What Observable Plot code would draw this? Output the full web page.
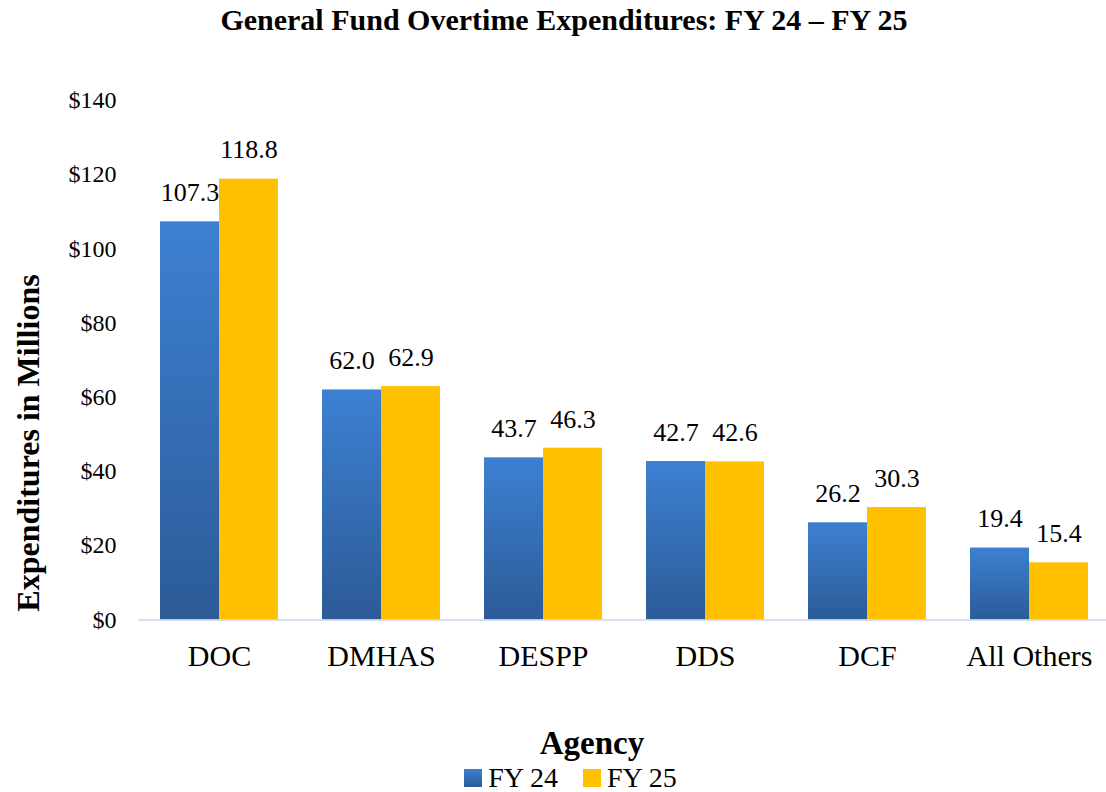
<!DOCTYPE html>
<html>
<head>
<meta charset="utf-8">
<script src="https://cdn.jsdelivr.net/npm/d3@7"></script>
<script src="https://cdn.jsdelivr.net/npm/@observablehq/plot@0.6"></script>
<style>
  html, body { margin: 0; padding: 0; background: #fff; overflow: hidden; }
  body { width: 1106px; height: 792px; position: relative; font-family: "Liberation Serif", serif; color: #000; }
  #title { position: absolute; left: 0; top: 0; width: 1128px; text-align: center; font-weight: bold; font-size: 30px; line-height: 40px; }
  #chart { position: absolute; left: 0; top: 40px; }
  #ylabel { position: absolute; left: 28px; top: 443px; transform: translate(-50%, -50%) rotate(-90deg); white-space: nowrap; font-weight: bold; font-size: 32px; line-height: 34px; }
  #xlabel { position: absolute; left: 0; top: 723px; width: 1184px; text-align: center; font-weight: bold; font-size: 33px; line-height: 40px; }
  #legend { position: absolute; left: 0; top: 763px; width: 1141px; display: flex; justify-content: center; align-items: center; font-size: 28px; line-height: 30px; }
  .item { display: flex; align-items: center; }
  .sw { width: 18px; height: 18px; margin-right: 6px; }
</style>
</head>
<body>
<div id="title">General Fund Overtime Expenditures: FY 24 – FY 25</div>
<div id="chart"></div>
<div id="ylabel">Expenditures in Millions</div>
<div id="xlabel">Agency</div>
<div id="legend"></div>
<script>
const agencies = ["DOC", "DMHAS", "DESPP", "DDS", "DCF", "All Others"];
const years = ["FY 24", "FY 25"];
const fy24 = [107.3, 62.0, 43.7, 42.7, 26.2, 19.4];
const fy25 = [118.8, 62.9, 46.3, 42.6, 30.3, 15.4];
const yTicks = [0, 20, 40, 60, 80, 100, 120, 140];

const serif = "Liberation Serif";
const blue = "url(#blueGrad)";
const gold = "#FFC000";

const rows = [];
agencies.forEach((a, i) => {
  rows.push({agency: a, year: years[0], value: fy24[i]});
  rows.push({agency: a, year: years[1], value: fy25[i]});
});

const plot = Plot.plot({
  width: 1112,
  height: 640,
  marginLeft: 135,
  marginRight: 0,
  marginTop: 60,
  marginBottom: 60.5,
  style: {fontFamily: serif, color: "#000", background: "#fff"},
  fx: {domain: agencies, padding: 0, label: null, tickSize: 0, tickPadding: 25},
  x: {domain: years, paddingInner: 0, paddingOuter: 0.37, axis: null},
  y: {domain: [0, 140], ticks: yTicks, tickFormat: d => "$" + d, tickSize: 0, tickPadding: 22, label: null},
  marks: [
    Plot.barY(rows.filter(d => d.year === years[0]), {fx: "agency", x: "year", y: "value", fill: blue}),
    Plot.barY(rows.filter(d => d.year === years[1]), {fx: "agency", x: "year", y: "value", fill: gold}),
    Plot.ruleY([0], {stroke: "#c9d6ea", strokeWidth: 1.5}),
    Plot.text(rows, {fx: "agency", x: "year", y: "value", text: d => d.value.toFixed(1), dy: -29, lineAnchor: "middle", fontSize: 26, fontFamily: serif, fill: "#000"})
  ]
});
plot.style.maxWidth = "none";
plot.style.overflow = "visible";

const svg = d3.select(plot);
svg.attr("font-family", serif).style("font-family", serif);
svg.selectAll("g").attr("font-family", serif);
svg.selectAll("text").attr("font-family", serif).style("font-family", serif);
svg.selectAll('g[aria-label^="y-axis"]').attr("font-size", 24).selectAll("text").style("font-size", "24px");
svg.selectAll('g[aria-label^="fx-axis"]').attr("font-size", 30).selectAll("text").style("font-size", "30px");

const defs = svg.insert("defs", ":first-child");
const grad = defs.append("linearGradient").attr("id", "blueGrad").attr("x1", 0).attr("y1", 0).attr("x2", 0).attr("y2", 1);
grad.append("stop").attr("offset", "0%").attr("stop-color", "#3d80d2");
grad.append("stop").attr("offset", "100%").attr("stop-color", "#2c5b97");

document.getElementById("chart").appendChild(plot);

const legend = document.getElementById("legend");
const swFills = ["linear-gradient(#3d80d2, #2c5b97)", gold];
years.forEach((y, i) => {
  const item = document.createElement("div");
  item.className = "item";
  if (i > 0) item.style.marginLeft = "25px";
  const sw = document.createElement("div");
  sw.className = "sw";
  sw.style.background = swFills[i];
  const t = document.createElement("span");
  t.textContent = y;
  item.appendChild(sw);
  item.appendChild(t);
  legend.appendChild(item);
});
</script>
</body>
</html>
